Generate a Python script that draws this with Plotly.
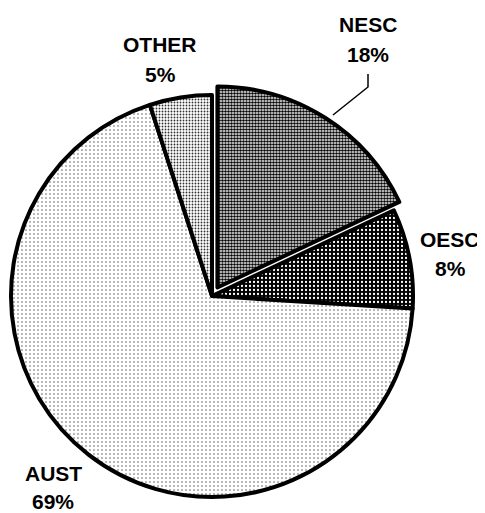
import plotly.graph_objects as go

labels = ["NESC", "OESC", "AUST", "OTHER"]
values = [18, 8, 69, 5]

# page has an 8px body margin; figure sized to fit the window
W, H = 477, 505
OFF = 8

# pie geometry in screen pixels
CX, CY, R = 212, 296, 201
PULL_DX, PULL_DY = 5.4, -8.5   # offset of the exploded NESC slice

fills = dict(
    NESC=dict(bg="white", fg="black", size=3, sol=0.6),
    OESC=dict(bg="black", fg="white", size=4, sol=0.25),
    AUST=dict(bg="white", fg="#555555", size=4, sol=0.12),
    OTHER=dict(bg="white", fg="#333333", size=3, sol=0.3),
)


def domain(cx, cy):
    fx, fy = cx - OFF, cy - OFF
    return dict(x=[(fx - R) / W, (fx + R) / W],
                y=[1 - (fy + R) / H, 1 - (fy - R) / H])


def pie_trace(visible_set, cx, cy):
    vis = [lab in visible_set for lab in labels]
    return go.Pie(
        labels=labels,
        values=values,
        sort=False,
        direction="clockwise",
        rotation=0,
        textinfo="none",
        hoverinfo="label+percent",
        showlegend=False,
        domain=domain(cx, cy),
        marker=dict(
            colors=[fills[l]["bg"] if v else "rgba(0,0,0,0)" for l, v in zip(labels, vis)],
            line=dict(color="black", width=[4 if v else 0 for v in vis]),
            pattern=dict(
                shape=["." if v else "" for v in vis],
                bgcolor=[fills[l]["bg"] if v else "rgba(0,0,0,0)" for l, v in zip(labels, vis)],
                fgcolor=[fills[l]["fg"] for l in labels],
                size=[fills[l]["size"] for l in labels],
                solidity=[fills[l]["sol"] for l in labels],
                fillmode="replace",
            ),
        ),
    )


fig = go.Figure([
    pie_trace({"OESC", "AUST", "OTHER"}, CX, CY),
    pie_trace({"NESC"}, CX + PULL_DX, CY + PULL_DY),
])

# label positions (screen pixels: x centre, y of name line, y of % line)
label_pos = {
    "NESC": (368, 24.5, 54.5),
    "OESC": (450, 239.5, 268),
    "AUST": (53, 473, 501.5),
    "OTHER": (160, 44.5, 74.5),
}

annotations = []
for lab, val in zip(labels, values):
    x, y1, y2 = label_pos[lab]
    for txt, yy in ((lab, y1), (f"{val}%", y2)):
        annotations.append(dict(
            x=(x - OFF) / W, y=1 - (yy - OFF) / H, xref="paper", yref="paper",
            text=f"<b>{txt}</b>", showarrow=False,
            xanchor="center", yanchor="middle",
            font=dict(family="Liberation Sans, Arial, sans-serif", size=21, color="black"),
        ))

# leader line for NESC (screen pixels)
pts = [(368, 74), (368, 87), (333, 115)]
path = "M " + " L ".join(f"{(x - OFF) / W},{1 - (y - OFF) / H}" for x, y in pts)
shapes = [dict(type="path", xref="paper", yref="paper", path=path,
               line=dict(color="black", width=1.5))]

fig.update_layout(
    width=W, height=H,
    margin=dict(l=0, r=0, t=0, b=0),
    paper_bgcolor="white",
    plot_bgcolor="white",
    annotations=annotations,
    shapes=shapes,
)

fig.write_html("out.html")
